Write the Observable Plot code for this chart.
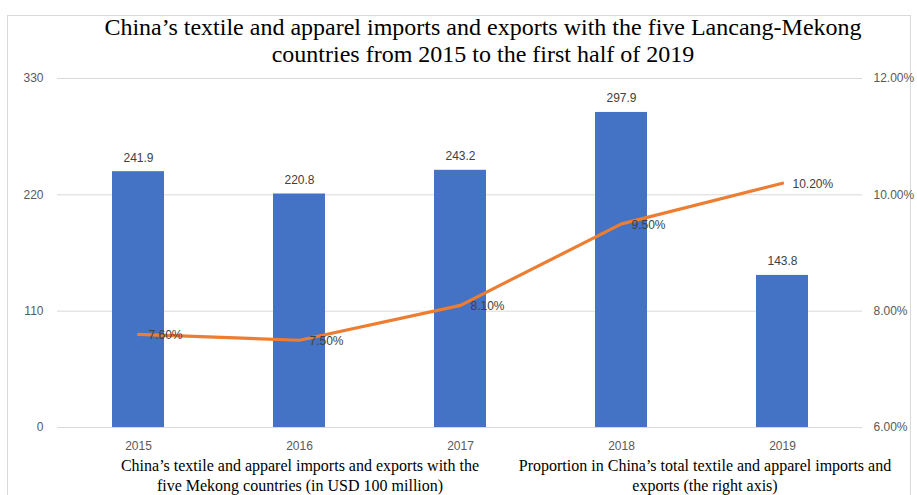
<!DOCTYPE html>
<html><head><meta charset="utf-8">
<script src="https://cdn.jsdelivr.net/npm/d3@7"></script>
<script src="https://cdn.jsdelivr.net/npm/@observablehq/plot@0.6"></script>
<style>
body{margin:0;background:#fff;}
#wrap{position:relative;width:917px;height:495px;overflow:hidden;background:#fff;}
#frame{position:absolute;left:7px;top:15px;width:904px;height:500px;border:1px solid #d9d9d9;box-sizing:border-box;}
#title{position:absolute;left:0;top:14px;width:966px;text-align:center;font-family:"Liberation Serif",serif;font-size:24px;line-height:27px;color:#000;}
#chart{position:absolute;left:0;top:60px;}
.leg{position:absolute;top:456px;text-align:center;font-family:"Liberation Serif",serif;font-size:16px;line-height:20px;color:#000;white-space:nowrap;}
</style></head>
<body>
<div id="wrap">
<div id="frame"></div>
<div id="title">China’s textile and apparel imports and exports with the five Lancang-Mekong<br>countries from 2015 to the first half of 2019</div>
<div id="chart"></div>
<div class="leg" style="left:100px;width:400px;">China’s textile and apparel imports and exports with the<br>five Mekong countries (in USD 100 million)</div>
<div class="leg" style="left:505px;width:400px;">Proportion in China’s total textile and apparel imports and<br>exports (the right axis)</div>
</div>
<script>
const years = ["2015","2016","2017","2018","2019"];
const tradeValues = [241.9, 220.8, 243.2, 297.9, 143.8];
const shares = [7.60, 7.50, 8.10, 9.50, 10.20];
const leftTicks = [0, 110, 220, 330];
const rightTickLabels = ["6.00%", "8.00%", "10.00%", "12.00%"];

const data = years.map((y, i) => ({year: y, value: tradeValues[i], share: shares[i]}));
const shareToY = p => (p - 6) / 6 * 330;

const plot = Plot.plot({
  width: 917,
  height: 400,
  marginTop: 18,
  marginBottom: 33,
  marginLeft: 57,
  marginRight: 55,
  style: {fontFamily: "'Liberation Sans', sans-serif", fontSize: "12px", color: "#595959", background: "transparent"},
  x: {domain: years, paddingInner: 0.68, paddingOuter: 0.34, label: null},
  y: {domain: [0, 330], label: null},
  marks: [
    Plot.ruleY(leftTicks, {stroke: "#d9d9d9", strokeWidth: 1}),
    Plot.axisY({ticks: leftTicks, tickSize: 0, tickPadding: 14, label: null, fill: "#595959"}),
    Plot.axisY({anchor: "right", ticks: leftTicks, tickSize: 0, tickPadding: 11, label: null, fill: "#595959",
      tickFormat: (d) => rightTickLabels[leftTicks.indexOf(d)]}),
    Plot.axisX({tickSize: 0, tickPadding: 14, label: null, fill: "#595959"}),
    Plot.barY(data, {x: "year", y: "value", fill: "#4472C4"}),
    Plot.text(data, {x: "year", y: "value", text: d => d.value.toFixed(1), dy: -14, fill: "#404040", fontSize: 12}),
    Plot.line(data, {x: "year", y: d => shareToY(d.share), stroke: "#ED7D31", strokeWidth: 3.2, curve: "linear"}),
    Plot.text(data, {x: "year", y: d => shareToY(d.share), text: d => d.share.toFixed(2) + "%", textAnchor: "start", dx: 10, dy: 1, fill: "#404040", fontSize: 12})
  ]
});
document.getElementById("chart").appendChild(plot);
</script>
</body></html>
